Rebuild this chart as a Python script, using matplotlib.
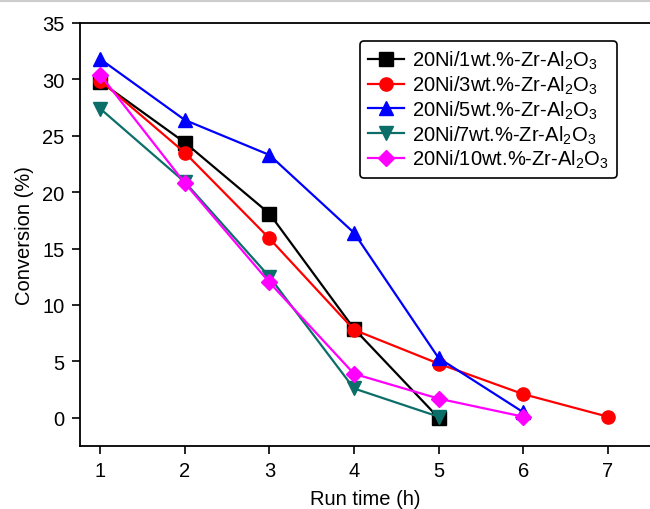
import matplotlib
matplotlib.use("Agg")
import matplotlib.pyplot as plt
from matplotlib.lines import Line2D

plt.rcParams['font.family'] = ['Liberation Sans', 'DejaVu Sans']
plt.rcParams['mathtext.fontset'] = 'custom'
plt.rcParams['mathtext.rm'] = 'Liberation Sans'

# run time (h) and conversion (%) per catalyst
time_1 = [1, 2, 3, 4, 5]
conv_1 = [29.8, 24.4, 18.1, 7.9, 0.0]
time_3 = [1, 2, 3, 4, 5, 6, 7]
conv_3 = [29.9, 23.5, 15.9, 7.8, 4.8, 2.1, 0.1]
time_5 = [1, 2, 3, 4, 5, 6]
conv_5 = [31.8, 26.4, 23.3, 16.4, 5.3, 0.5]
time_7 = [1, 2, 3, 4, 5]
conv_7 = [27.4, 20.9, 12.5, 2.6, 0.1]
time_10 = [1, 2, 3, 4, 5, 6]
conv_10 = [30.4, 20.8, 12.0, 3.9, 1.7, 0.1]

labels = [r'20Ni/1wt.%-Zr-Al$_2$O$_3$', r'20Ni/3wt.%-Zr-Al$_2$O$_3$',
          r'20Ni/5wt.%-Zr-Al$_2$O$_3$', r'20Ni/7wt.%-Zr-Al$_2$O$_3$',
          r'20Ni/10wt.%-Zr-Al$_2$O$_3$']
colors = ['black', '#ff0000', '#0000ff', '#0b6e69', '#ff00ff']
markers = ['s', 'o', '^', 'v', 'D']
series = [(time_1, conv_1), (time_3, conv_3), (time_5, conv_5),
          (time_7, conv_7), (time_10, conv_10)]

fig = plt.figure(figsize=(6.5, 5.1), dpi=100)
ax = fig.add_axes([80 / 650, 1 - 447 / 510, 1 - 80 / 650, (447 - 24) / 510])

for (x, y), lab, c, m in zip(series, labels, colors, markers):
    ms = 8 if m == 'D' else 9.5
    ax.plot(x, y, color=c, marker=m, markersize=ms, linewidth=1.6, label=lab)

ax.set_xlim(0.76, 7.5)
ax.set_ylim(-2.5, 35)
ax.set_xticks(range(1, 8))
ax.set_yticks(range(0, 36, 5))
ax.tick_params(labelsize=14.5, length=6, width=1.2, direction='out', pad=5)
ax.set_xlabel('Run time (h)', fontsize=14.5, labelpad=6)
ax.set_ylabel('Conversion (%)', fontsize=14.5, labelpad=6)
ax.spines['right'].set_visible(False)
for s in ['left', 'bottom', 'top']:
    ax.spines[s].set_linewidth(1.3)

leg = ax.legend(loc='upper left', bbox_to_anchor=(360 / 650, 1 - 42 / 510),
                bbox_transform=fig.transFigure, fontsize=14.5, frameon=True,
                fancybox=True, edgecolor='black', handlelength=1.8,
                labelspacing=0.12, borderpad=0.4, handletextpad=0.4,
                borderaxespad=0)
leg.get_frame().set_linewidth(1.2)
leg.get_frame().set_alpha(1)

fig.add_artist(Line2D([0, 1], [0.997, 0.997], color='#cccccc', linewidth=1.5))

fig.savefig('out.png', dpi=100)
